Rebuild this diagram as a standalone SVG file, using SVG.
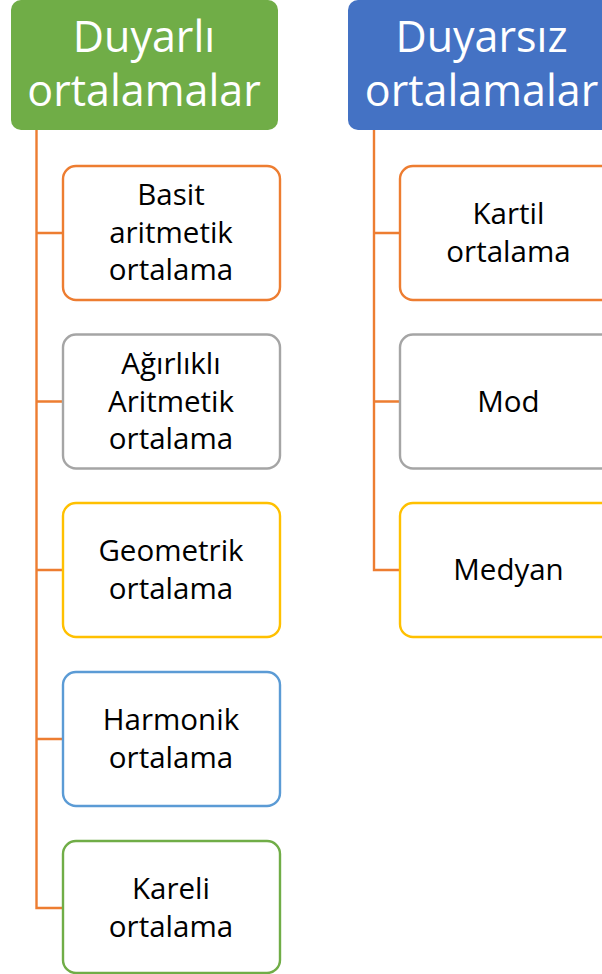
<svg xmlns="http://www.w3.org/2000/svg" width="602" height="974" viewBox="0 0 602 974">
<style>
.hdr{stroke:none}
.box{fill:#fff;stroke-width:2.4}
.ht{font-family:"Open Sans",sans-serif;font-size:43px;fill:#fff;text-anchor:middle}
.bt{font-family:"Open Sans",sans-serif;font-size:29.5px;fill:#000;text-anchor:middle}
.con{fill:none;stroke:#ED7D31;stroke-width:2.4}
</style>
<rect width="602" height="974" fill="#fff"/>
<g id="connectors">
<path class="con" d="M36.5,130 V908 H63 M36.5,233 H63 M36.5,401.5 H63 M36.5,570 H63 M36.5,739 H63"/>
<path class="con" d="M374,130 V570 H400 M374,233 H400 M374,401.5 H400"/>
</g>
<g id="duyarli">
<rect class="hdr" x="11" y="0" width="267" height="130" rx="10" fill="#70AD47"/>
<text class="ht" x="144" y="52">Duyarlı</text>
<text class="ht" x="144" y="106">ortalamalar</text>
</g>
<g id="duyarsiz">
<rect class="hdr" x="348" y="0" width="267" height="130" rx="10" fill="#4472C4"/>
<text class="ht" x="481.5" y="52">Duyarsız</text>
<text class="ht" x="481.5" y="106">ortalamalar</text>
</g>
<g id="basit">
<rect class="box" x="63" y="166" width="217" height="134" rx="13" stroke="#ED7D31"/>
<text class="bt" x="171" y="205">Basit</text>
<text class="bt" x="171" y="243">aritmetik</text>
<text class="bt" x="171" y="280">ortalama</text>
</g>
<g id="agirlikli">
<rect class="box" x="63" y="334.5" width="217" height="134" rx="13" stroke="#A5A5A5"/>
<text class="bt" x="171" y="373.5">Ağırlıklı</text>
<text class="bt" x="171" y="411.5">Aritmetik</text>
<text class="bt" x="171" y="448.5">ortalama</text>
</g>
<g id="geometrik">
<rect class="box" x="63" y="503" width="217" height="134" rx="13" stroke="#FFC000"/>
<text class="bt" x="171" y="561">Geometrik</text>
<text class="bt" x="171" y="599">ortalama</text>
</g>
<g id="harmonik">
<rect class="box" x="63" y="672" width="217" height="134" rx="13" stroke="#5B9BD5"/>
<text class="bt" x="171" y="730">Harmonik</text>
<text class="bt" x="171" y="768">ortalama</text>
</g>
<g id="kareli">
<rect class="box" x="63" y="841" width="217" height="132" rx="13" stroke="#70AD47"/>
<text class="bt" x="171" y="899">Kareli</text>
<text class="bt" x="171" y="937">ortalama</text>
</g>
<g id="kartil">
<rect class="box" x="400" y="166" width="217" height="134" rx="13" stroke="#ED7D31"/>
<text class="bt" x="508.5" y="224">Kartil</text>
<text class="bt" x="508.5" y="262">ortalama</text>
</g>
<g id="mod">
<rect class="box" x="400" y="334.5" width="217" height="134" rx="13" stroke="#A5A5A5"/>
<text class="bt" x="508.5" y="411.5">Mod</text>
</g>
<g id="medyan">
<rect class="box" x="400" y="503" width="217" height="134" rx="13" stroke="#FFC000"/>
<text class="bt" x="508.5" y="580">Medyan</text>
</g>
</svg>
